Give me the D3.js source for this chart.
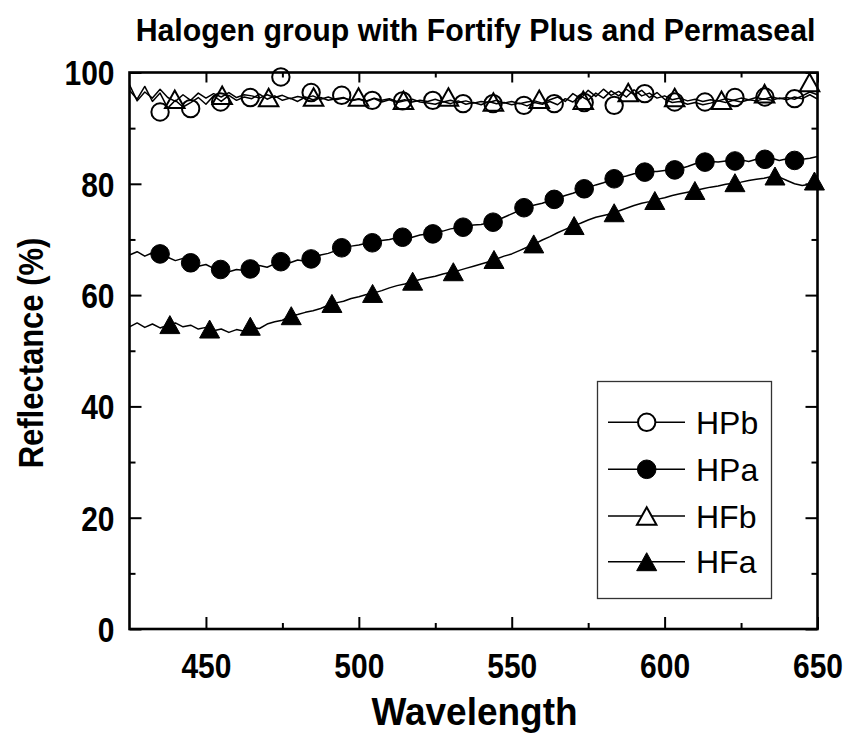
<!DOCTYPE html>
<html><head><meta charset="utf-8">
<script src="https://cdn.jsdelivr.net/npm/d3@7"></script>
<style>body{margin:0;background:#fff} svg{display:block} text{font-family:"Liberation Sans",Arial,Helvetica,sans-serif;fill:#000}</style>
</head><body><svg id="chart" width="848" height="736"></svg>
<script>
const titleText = "Halogen group with Fortify Plus and Permaseal";
const xLabel = "Wavelength";
const yLabel = "Reflectance (%)";
const seriesNames = ["HPb", "HPa", "HFb", "HFa"];
const xTickValues = [450, 500, 550, 600, 650];
const xMinorTicks = [475, 525, 575, 625];
const yTickValues = [0, 20, 40, 60, 80, 100];
const yMinorTicks = [10, 30, 50, 70, 90];

const lineWavelength = [425,427.5,430,432.5,435,437.5,440,442.5,445,447.5,450,452.5,455,457.5,460,462.5,465,467.5,470,472.5,475,477.5,480,482.5,485,487.5,490,492.5,495,497.5,500,502.5,505,507.5,510,512.5,515,517.5,520,522.5,525,527.5,530,532.5,535,537.5,540,542.5,545,547.5,550,552.5,555,557.5,560,562.5,565,567.5,570,572.5,575,577.5,580,582.5,585,587.5,590,592.5,595,597.5,600,602.5,605,607.5,610,612.5,615,617.5,620,622.5,625,627.5,630,632.5,635,637.5,640,642.5,645,647.5,650];
const hpbLine = [96.8,95.2,97.5,94.8,96.3,93.6,95.0,93.8,94.6,95.5,94.3,95.8,94.8,95.9,95.0,95.6,95.3,96.1,95.2,95.8,95.0,95.4,94.8,95.6,95.1,95.5,95.0,95.3,95.5,94.9,95.2,94.8,95.3,94.7,95.1,94.6,94.9,95.2,94.7,94.5,94.3,94.8,94.4,94.9,94.3,94.6,94.2,94.8,94.4,94.6,94.2,94.5,94.0,94.6,94.3,94.8,94.2,95.3,94.7,95.8,95.0,96.3,95.4,96.7,95.8,97.0,96.0,96.8,95.5,96.4,95.2,94.6,94.8,94.3,94.6,94.2,94.5,94.9,94.6,95.0,94.7,95.1,94.9,95.3,95.0,95.4,95.1,95.6,95.3,96.0,95.2];
const hpaLine = [67.2,67.8,67.0,67.6,67.3,66.8,66.2,66.6,65.7,65.2,65.5,64.8,64.5,64.2,64.6,64.4,64.8,65.3,65.0,65.6,66.0,65.8,66.3,66.1,66.6,67.2,67.5,68.0,68.4,68.8,69.0,69.3,69.4,69.8,70.0,70.3,70.5,70.4,70.8,71.0,71.2,71.5,71.9,72.1,72.3,72.6,72.7,73.0,73.4,74.0,74.6,75.2,75.8,76.2,76.5,77.0,77.4,77.9,78.3,78.8,79.3,79.8,80.2,80.7,81.1,81.4,81.8,82.0,82.2,82.2,82.4,82.5,82.7,83.1,83.6,83.8,84.0,83.9,84.1,84.1,84.3,84.0,84.4,84.4,84.6,84.2,84.5,84.2,84.4,84.6,84.9];
const hfbLine = [97.8,94.9,96.5,95.4,97.0,95.5,94.8,96.0,95.0,96.3,95.4,96.2,95.6,96.4,95.5,96.0,95.8,95.4,96.0,95.5,95.9,95.3,95.7,95.4,95.8,95.2,95.6,95.1,95.4,95.0,95.3,94.9,95.4,95.0,95.3,94.8,95.1,94.7,95.0,94.8,95.2,94.7,95.0,94.6,94.9,94.5,94.8,94.6,95.0,94.5,94.8,94.4,94.7,94.9,94.5,95.1,95.6,94.8,96.2,95.3,96.8,95.7,97.0,95.9,96.6,95.6,96.9,95.8,96.3,95.4,95.8,95.1,95.4,94.9,95.2,94.8,95.1,94.9,95.3,95.0,95.4,95.1,95.5,95.2,95.6,95.3,95.5,95.2,95.8,96.5,96.0];
const hfaLine = [54.3,55.0,54.2,54.8,54.1,54.6,55.0,54.3,54.6,53.9,54.2,53.6,53.9,53.3,53.8,53.5,54.2,54.0,54.8,55.2,55.5,56.2,56.5,56.9,57.2,57.6,58.2,58.6,58.9,59.4,59.7,60.1,60.4,60.8,61.3,61.7,62.0,62.4,62.8,63.1,63.4,63.8,64.1,64.4,64.8,65.2,65.6,66.0,66.5,67.0,67.4,68.0,68.6,69.2,69.9,70.5,71.2,71.8,72.4,72.9,73.5,74.0,74.3,74.6,75.1,75.6,76.1,76.5,76.8,77.2,77.5,77.9,78.2,78.5,78.8,79.1,79.4,79.6,79.9,80.1,80.3,80.6,80.8,81.0,81.3,81.2,80.6,80.0,79.7,79.9,80.4];

const hpMarkerWl = [435,445,454.8,464.5,474.5,484.4,494.4,504.4,514.3,524.2,534.1,543.9,554,563.9,573.7,583.5,593.5,603.3,613.2,623,632.8,642.5];
const hpbMarkerVal = [92.9,93.5,94.7,95.5,99.2,96.4,95.9,95.0,94.9,95.0,94.4,94.4,94.1,94.4,94.6,94.1,96.2,94.7,94.7,95.5,95.6,95.3];
const hpaMarkerVal = [67.4,65.8,64.6,64.7,66.0,66.5,68.5,69.4,70.4,71.0,72.2,73.1,75.7,77.2,79.1,80.9,82.1,82.5,83.9,84.1,84.4,84.2];
const hfbMarkerWl = [439.8,455.3,470.5,485.2,499.9,514.6,529.3,544.0,559.0,573.4,588.1,603.3,618.6,632.7,647.4];
const hfbMarkerVal = [95.2,95.9,95.5,95.6,95.6,95.0,95.6,94.7,95.2,95.0,96.4,95.5,95.0,96.2,98.2];
const hfaMarkerWl = [438.2,451.2,464.5,477.9,491.2,504.5,517.6,530.9,544.2,557.2,570.4,583.5,596.8,609.9,623.0,636.1,649.0];
const hfaMarkerVal = [54.7,53.9,54.4,56.3,58.5,60.3,62.5,64.2,66.4,69.2,72.5,74.8,77.0,78.8,80.2,81.4,80.5];

const series = [
  {name: seriesNames[0], line: hpbLine, mx: hpMarkerWl, my: hpbMarkerVal, shape: "circle", filled: false},
  {name: seriesNames[1], line: hpaLine, mx: hpMarkerWl, my: hpaMarkerVal, shape: "circle", filled: true},
  {name: seriesNames[2], line: hfbLine, mx: hfbMarkerWl, my: hfbMarkerVal, shape: "triangle", filled: false},
  {name: seriesNames[3], line: hfaLine, mx: hfaMarkerWl, my: hfaMarkerVal, shape: "triangle", filled: true}
];

const svg = d3.select("#chart");
const x = d3.scaleLinear().domain([425, 650]).range([129.5, 817.5]);
const y = d3.scaleLinear().domain([0, 100]).range([629, 72.5]);

const S = 1.15; // vertical stretch of text in reference
function stretchText(sel, tx, ty, s) {
  sel.attr("x", 0).attr("y", 0).attr("dy", null)
     .attr("transform", `translate(${tx},${ty}) scale(1,${s})`);
}

// data lines
const lineGen = d3.line().x((d, i) => x(lineWavelength[i])).y(d => y(d));
const gData = svg.append("g");
series.forEach(s => {
  gData.append("path").datum(s.line).attr("d", lineGen)
    .attr("fill", "none").attr("stroke", "#000").attr("stroke-width", 1.5).attr("stroke-linejoin", "round");
});

const triPath = (w, h) => `M0,${-h/2}L${w/2},${h/2}L${-w/2},${h/2}Z`;
function drawMarker(g, shape, filled, inLegend) {
  let m;
  if (shape === "circle") {
    m = g.append("circle").attr("r", filled ? 9.3 : 8.7);
  } else {
    m = g.append("path").attr("d", filled ? triPath(20, 18) : triPath(19.5, 17.5));
  }
  m.attr("fill", filled ? "#000" : (inLegend ? "#fff" : "none"))
   .attr("stroke", "#000").attr("stroke-width", filled ? 1 : 2).attr("stroke-linejoin", "miter");
  return m;
}
series.forEach(s => {
  s.mx.forEach((w, i) => {
    const g = gData.append("g").attr("transform", `translate(${x(w)},${y(s.my[i])})`);
    drawMarker(g, s.shape, s.filled, false);
  });
});

// axes
function styleAxis(g) {
  g.select(".domain").remove();
  g.selectAll(".tick line").attr("stroke", "#000").attr("stroke-width", 2);
}
const fmt = d3.format("d");
const gxB = svg.append("g").attr("transform", `translate(0,${y(0)})`)
  .call(d3.axisBottom(x).tickValues(xTickValues).tickSize(-12).tickFormat(fmt));
styleAxis(gxB);
gxB.selectAll(".tick text").attr("font-size", 30).attr("font-weight", "bold").attr("text-anchor", "middle")
  .each(function() { stretchText(d3.select(this), 0, 49, S); });
const gxBm = svg.append("g").attr("transform", `translate(0,${y(0)})`)
  .call(d3.axisBottom(x).tickValues(xMinorTicks).tickSize(-6).tickFormat(""));
styleAxis(gxBm);
const gxT = svg.append("g").attr("transform", `translate(0,${y(100)})`)
  .call(d3.axisTop(x).tickValues(xTickValues).tickSize(-10).tickFormat(""));
styleAxis(gxT);
const gxTm = svg.append("g").attr("transform", `translate(0,${y(100)})`)
  .call(d3.axisTop(x).tickValues(xMinorTicks).tickSize(-5).tickFormat(""));
styleAxis(gxTm);

const gyL = svg.append("g").attr("transform", `translate(${x(425)},0)`)
  .call(d3.axisLeft(y).tickValues(yTickValues).tickSize(-12).tickFormat(fmt));
styleAxis(gyL);
gyL.selectAll(".tick text").attr("font-size", 30).attr("font-weight", "bold").attr("text-anchor", "end")
  .each(function() { stretchText(d3.select(this), -15, 12.3, S); });
const gyLm = svg.append("g").attr("transform", `translate(${x(425)},0)`)
  .call(d3.axisLeft(y).tickValues(yMinorTicks).tickSize(-6).tickFormat(""));
styleAxis(gyLm);
const gyR = svg.append("g").attr("transform", `translate(${x(650)},0)`)
  .call(d3.axisRight(y).tickValues(yTickValues).tickSize(-12).tickFormat(""));
styleAxis(gyR);
const gyRm = svg.append("g").attr("transform", `translate(${x(650)},0)`)
  .call(d3.axisRight(y).tickValues(yMinorTicks).tickSize(-6).tickFormat(""));
styleAxis(gyRm);

// frame
svg.append("rect").attr("x", x(425)).attr("y", y(100)).attr("width", x(650) - x(425)).attr("height", y(0) - y(100))
  .attr("fill", "none").attr("stroke", "#000").attr("stroke-width", 2.6);

// titles
stretchText(svg.append("text").text(titleText).attr("font-size", 30.3).attr("font-weight", "bold").attr("text-anchor", "middle"), 475.5, 41, 1.05);
stretchText(svg.append("text").text(xLabel).attr("font-size", 37).attr("font-weight", "bold").attr("text-anchor", "middle"), 474.5, 725, 1.05);
svg.append("text").text(yLabel).attr("font-size", 31).attr("font-weight", "bold").attr("text-anchor", "middle")
  .attr("transform", `translate(43,353) rotate(-90) scale(1,${S})`);

// legend
const lg = svg.append("g");
lg.append("rect").attr("x", 597.5).attr("y", 381.5).attr("width", 174).attr("height", 217)
  .attr("fill", "#fff").attr("stroke", "#333").attr("stroke-width", 1.3);
const legendRowsY = [422.3, 469.3, 516, 561.7];
series.forEach((s, i) => {
  const ry = legendRowsY[i];
  lg.append("line").attr("x1", 608).attr("x2", 685).attr("y1", ry).attr("y2", ry).attr("stroke", "#000").attr("stroke-width", 1.4);
  const g = lg.append("g").attr("transform", `translate(646.7,${ry})`);
  drawMarker(g, s.shape, s.filled, true);
  lg.append("text").text(s.name).attr("x", 696).attr("y", ry + 11.5).attr("font-size", 32);
});
</script></body></html>
